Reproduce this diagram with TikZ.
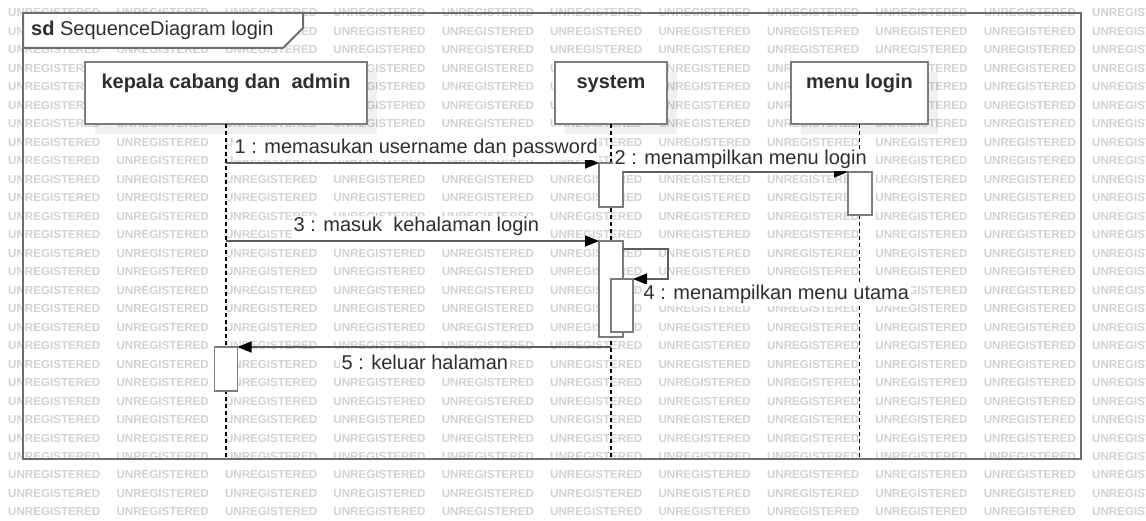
\documentclass[tikz,border=0pt]{standalone}
\usepackage{fontspec}
\setmainfont{Liberation Sans}
\usetikzlibrary{arrows.meta}
\definecolor{wm}{HTML}{D2D2D2}
\definecolor{frm}{HTML}{6E6E6E}
\definecolor{boxc}{HTML}{7C7C7C}
\definecolor{txt}{HTML}{2E2E2E}
\definecolor{msg}{HTML}{5E5E5E}
\begin{document}
\begin{tikzpicture}[x=1pt,y=-1pt,
  lbl/.style={font=\fontsize{20}{23}\selectfont, text=txt, inner sep=1.5pt, fill=white, anchor=base west},
  ttl/.style={font=\bfseries\fontsize{20}{23}\selectfont, text=txt, inner sep=0pt, anchor=base},
  lifebox/.style={draw=boxc, line width=1.6pt, fill=white, anchor=north west, outer sep=0pt, inner sep=0pt},
  shade/.style={fill=black, opacity=0.06},
  act/.style={draw=boxc, line width=1.5pt, fill=white, outer sep=0pt, inner sep=0pt},
  msgline/.style={draw=msg, line width=1.6pt, -{Triangle[length=14pt,width=11pt,fill=black,color=black]}},
  lifeline/.style={draw=black, line width=1.1pt, dash pattern=on 4pt off 3pt},
  wmk/.style={font=\bfseries\fontsize{11.6}{12}\selectfont, text=wm, inner sep=0pt, anchor=west}
]
\useasboundingbox (0,0) rectangle (1146,521);
\fill[white] (0,0) rectangle (1146,521);
% watermark
\foreach \r in {0,...,27}{
  \foreach \c in {0,...,10}{
    \node[wmk] (wm-\r-\c) at ({8+108.4*\c},{13+18.48*\r}) {UNREGISTERED};
  }
}
% frame
\node[draw=frm, line width=2pt, minimum width=1058pt, minimum height=446pt, anchor=north west, inner sep=0pt, outer sep=0pt] (frame) at (23,13) {};
\draw[draw=frm, line width=2pt, fill=white] (frame.north west) -- (303,13) -- (303,28) -- (283,48) -- (23,48) -- cycle;
\node[font=\fontsize{20}{23}\selectfont, text=txt, anchor=base west, inner sep=0pt] (sdt) at (31,36) {\textbf{sd}\ SequenceDiagram login};
% lifeline heads
\fill[shade] (95,72) rectangle (377,134);
\fill[shade] (565,72) rectangle (677,134);
\fill[shade] (801,72) rectangle (938,134);
\node[lifebox, minimum width=282pt, minimum height=62pt] (b1) at (85,62) {};
\node[lifebox, minimum width=112pt, minimum height=62pt] (b2) at (555,62) {};
\node[lifebox, minimum width=137pt, minimum height=62pt] (b3) at (791,62) {};
\node[ttl] (t1) at (226,89) {kepala cabang dan\ \ admin};
\node[ttl] (t2) at (611,89) {system};
\node[ttl] (t3) at (859.5,89) {menu login};
% lifelines
\coordinate (e1) at (226,459);
\coordinate (e2) at (611,459);
\coordinate (e3) at (859.5,459);
\draw[lifeline] (b1.south) -- (e1);
\draw[lifeline] (b2.south) -- (e2);
\draw[lifeline] (b3.south) -- (e3);
% activations
\node[act, minimum width=24pt, minimum height=44pt] (a1) at (611,185) {};
\node[act, minimum width=24pt, minimum height=43pt] (a2) at (860,193.5) {};
\node[act, minimum width=24pt, minimum height=96pt] (a3) at (611,289) {};
\node[act, minimum width=22pt, minimum height=53pt] (a4) at (622,305.5) {};
\node[act, minimum width=23pt, minimum height=44pt] (a5) at (226,369) {};
% messages
\coordinate (m1s) at (226,163);
\draw[msgline] (m1s) -- (a1.north west);
\coordinate (m2s) at (623,172);
\draw[msgline] (m2s) -- (a2.north west);
\coordinate (m3s) at (226,241);
\draw[msgline] (m3s) -- (a3.north west);
\coordinate (m4s) at (623,249);
\coordinate (m4r) at (668,249);
\coordinate (m4b) at (668,279);
\draw[msgline] (m4s) -- (m4r) -- (m4b) -- (a4.north east);
\coordinate (m5s) at (611,347);
\draw[msgline] (m5s) -- (a5.north east);
% labels
\node[lbl] (l1) at (233,154) {1 : memasukan username dan password};
\node[lbl] (l2) at (613,165) {2 : menampilkan menu login};
\node[lbl] (l3) at (292,232) {3 : masuk\ \ kehalaman login};
\node[lbl] (l4) at (642,300) {4 : menampilkan menu utama};
\node[lbl] (l5) at (340,369) {5 : keluar halaman};
\end{tikzpicture}
\end{document}
